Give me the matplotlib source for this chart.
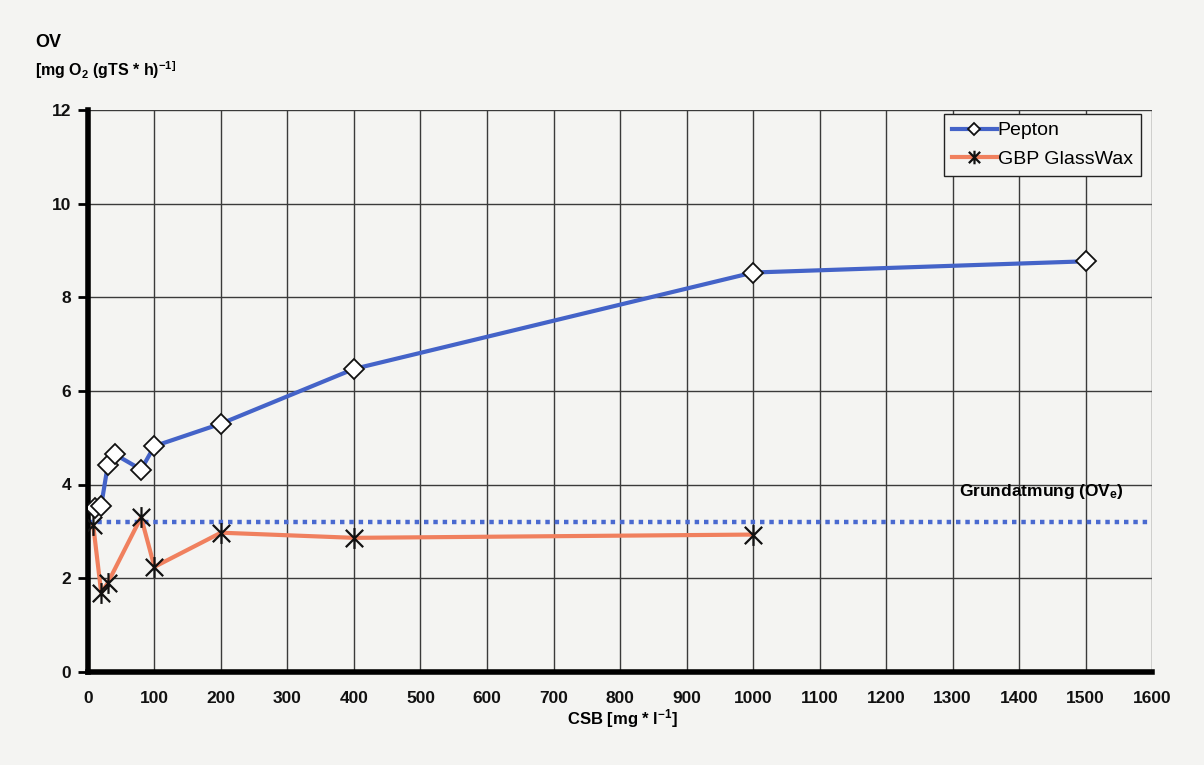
"""
OV vs CSB for Pepton and GBP GlassWax, with the base respiration level.
"""

import matplotlib as mpl
mpl.use('Agg')

import matplotlib.pyplot as plt
from matplotlib.path import Path

plt.rcParams['font.family'] = ['Liberation Sans', 'DejaVu Sans']
plt.rcParams['mathtext.fontset'] = 'custom'
plt.rcParams['mathtext.rm'] = 'Liberation Sans:bold'
plt.rcParams['mathtext.it'] = 'Liberation Sans:bold'

# Data
pepton_x = [10, 20, 30, 40, 80, 100, 200, 400, 1000, 1500]
pepton_y = [3.50, 3.55, 4.42, 4.65, 4.32, 4.82, 5.30, 6.47, 8.53, 8.77]

glass_x = [8, 20, 30, 80, 100, 200, 400, 1000]
glass_y = [3.13, 1.69, 1.90, 3.30, 2.24, 2.97, 2.86, 2.93]

base_x = [0, 1600]
base_y = [3.2, 3.2]

xticks = list(range(0, 1601, 100))
yticks = list(range(0, 13, 2))

bg = '#f4f4f2'

# Excel style asterisk: an X with a vertical stroke
star = Path([(-1, -1), (1, 1), (-1, 1), (1, -1), (0, -1.2), (0, 1.2)],
            [Path.MOVETO, Path.LINETO, Path.MOVETO, Path.LINETO, Path.MOVETO, Path.LINETO])

fig = plt.figure(figsize=(12.04, 7.65), dpi=100, facecolor=bg)
ax = fig.add_axes([0.073, 0.122, 0.884, 0.734], facecolor=bg)

ax.plot(base_x, base_y, color='#4a6ad0', linewidth=3.2, linestyle=(0, (1, 1.1)), zorder=2)
ax.plot(glass_x, glass_y, color='#f0805e', linewidth=3, zorder=3,
        marker=star, markersize=15, markeredgecolor='#111111', markeredgewidth=1.6,
        label='GBP GlassWax')
ax.plot(pepton_x, pepton_y, color='#4463c8', linewidth=3, zorder=4,
        marker='D', markersize=10, markerfacecolor='white', markeredgecolor='#111111',
        markeredgewidth=1.3, label='Pepton')

ax.set_xlim(0, 1600)
ax.set_ylim(0, 12)
ax.set_xticks(xticks)
ax.set_yticks(yticks)
ax.grid(True, color='#3a3a3a', linewidth=1.0)
ax.set_axisbelow(True)

for s in ['top', 'right']:
    ax.spines[s].set_visible(False)
for s in ['left', 'bottom']:
    ax.spines[s].set_linewidth(4)
    ax.spines[s].set_color('black')

ax.tick_params(axis='y', direction='out', length=7, width=2, pad=5, labelsize=12.5)
ax.tick_params(axis='x', length=0, pad=14, labelsize=12.5)
for lab in ax.get_xticklabels() + ax.get_yticklabels():
    lab.set_fontweight('bold')
    lab.set_color('#111111')

# Legend lists Pepton first
handles, labels = ax.get_legend_handles_labels()
leg = ax.legend(handles[::-1], labels[::-1], loc='upper right', bbox_to_anchor=(0.989, 0.993),
                borderaxespad=0, numpoints=1, fontsize=14, handlelength=2.3,
                handletextpad=0.05, fancybox=False, framealpha=1, facecolor=bg,
                edgecolor='#222222', borderpad=0.4, labelspacing=0.55, markerscale=0.65)
leg.get_frame().set_linewidth(1.0)

ax.text(1433, 3.85, 'Grundatmung (OV$_e$)', fontsize=12.5, fontweight='bold', ha='center', va='center')

fig.text(0.029, 0.945, 'OV', fontsize=13, fontweight='bold', va='center')
fig.text(0.029, 0.908, '[mg O$_2$ (gTS * h)$^{-1]}$', fontsize=11.5, fontweight='bold', va='center')
fig.text(0.517, 0.061, 'CSB [mg * l$^{-1}$]', fontsize=12, fontweight='bold', ha='center', va='center')

fig.savefig('out.png', dpi=100, facecolor=bg)
